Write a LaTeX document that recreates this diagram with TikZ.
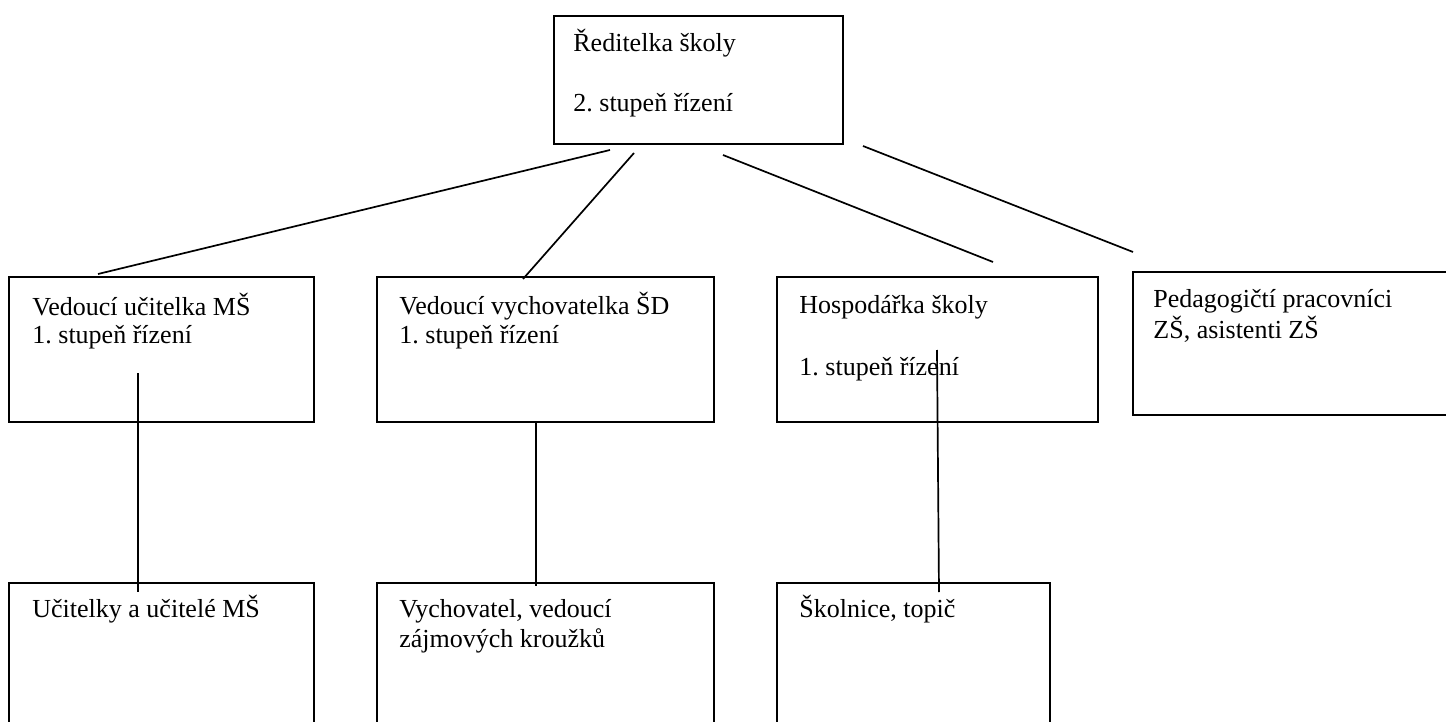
\documentclass[tikz,border=0pt]{standalone}
\usepackage{fontspec}
\setmainfont{Liberation Serif}
\frenchspacing
\tikzset{
  box/.style={draw=black, line width=1pt, rectangle, inner sep=0pt, fill=none},
  lbl/.style={anchor=base west, inner sep=0pt, font=\fontsize{13}{15}\selectfont},
  conn/.style={draw=black, line width=0.85pt}
}
\begin{document}
\begin{tikzpicture}[x=0.5pt, y=-0.5pt]
\clip (0,0) rectangle (1446,722);
\fill[white] (0,0) rectangle (1446,722);
% boxes
\node[box, minimum width=144.5pt, minimum height=64pt] (top) at (698.5,80) {};
\node[box, minimum width=152.5pt, minimum height=72.5pt] (ms) at (161.5,349.5) {};
\node[box, minimum width=168.5pt, minimum height=72.5pt] (sd) at (545.5,349.5) {};
\node[box, minimum width=160.5pt, minimum height=72.5pt] (hosp) at (937.5,349.5) {};
\node[box, minimum width=163.5pt, minimum height=71.5pt] (ped) at (1296.5,343.5) {};
\node[box, minimum width=152.5pt, minimum height=78.5pt] (ucit) at (161.5,661.5) {};
\node[box, minimum width=168.5pt, minimum height=78.5pt] (vych) at (545.5,661.5) {};
\node[box, minimum width=136.5pt, minimum height=78.5pt] (skol) at (913.5,661.5) {};
% texts
\node[lbl] (t1) at (573,52) {Ředitelka školy};
\node[lbl] (t2) at (573,112) {2.\ stupeň řízení};
\node[lbl] (m1) at (32,315) {Vedoucí učitelka MŠ};
\node[lbl] (m2) at (32,343) {1.\ stupeň řízení};
\node[lbl] (s1) at (399,314) {Vedoucí vychovatelka ŠD};
\node[lbl] (s2) at (399,343) {1.\ stupeň řízení};
\node[lbl] (h1) at (799,313) {Hospodářka školy};
\node[lbl] (h2) at (799,375) {1.\ stupeň řízení};
\node[lbl] (p1) at (1153,307) {Pedagogičtí pracovníci};
\node[lbl] (p2) at (1153,338) {ZŠ, asistenti ZŠ};
\node[lbl] (u1) at (32,617) {Učitelky a učitelé MŠ};
\node[lbl] (v1) at (399,617) {Vychovatel, vedoucí};
\node[lbl] (v2) at (399,647) {zájmových kroužků};
\node[lbl] (k1) at (799,617) {Školnice, topič};
% connector end points
\coordinate (a1) at (610,150);  \coordinate (b1) at (98,274);
\coordinate (a2) at (634,153);  \coordinate (b2) at (523,279);
\coordinate (a3) at (723,155);  \coordinate (b3) at (993,262);
\coordinate (a4) at (863,146);  \coordinate (b4) at (1133,252);
\coordinate (c1) at (138,373);  \coordinate (d1) at (138,592);
\coordinate (c2) at (536,422);  \coordinate (d2) at (536,586);
\coordinate (c3) at (937,350);  \coordinate (d3) at (939,592);
\draw[conn] (a1) -- (b1);
\draw[conn] (a2) -- (b2);
\draw[conn] (a3) -- (b3);
\draw[conn] (a4) -- (b4);
\draw[conn] (c1) -- (d1);
\draw[conn] (c2) -- (d2);
\draw[conn] (c3) -- (d3);
\end{tikzpicture}
\end{document}
